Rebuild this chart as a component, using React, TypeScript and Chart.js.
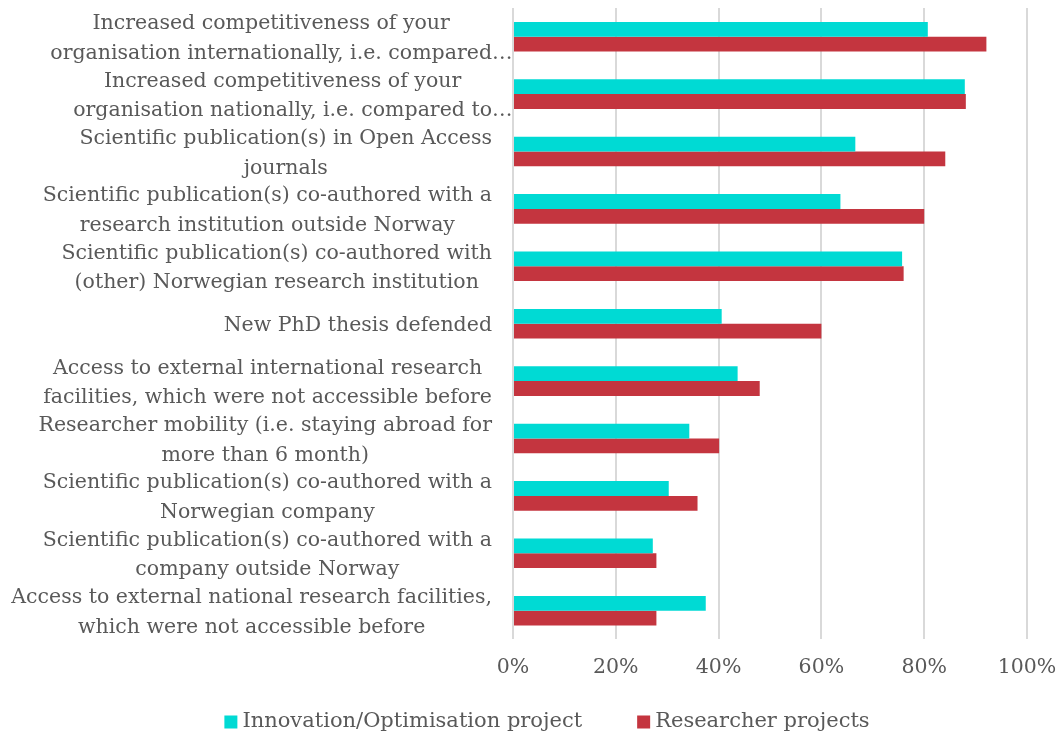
import { useEffect, useRef } from 'react';
import { Chart, registerables } from 'chart.js';

Chart.register(...registerables);

const categories: string[][] = [
  ['Increased competitiveness of your', 'organisation internationally, i.e. compared…'],
  ['Increased competitiveness of your', 'organisation nationally, i.e. compared to…'],
  ['Scientific publication(s) in Open Access', 'journals'],
  ['Scientific publication(s) co-authored with a', 'research institution outside Norway'],
  ['Scientific publication(s) co-authored with', '(other) Norwegian research institution'],
  ['New PhD thesis defended'],
  ['Access to external international research', 'facilities, which were not accessible before'],
  ['Researcher mobility (i.e. staying abroad for', 'more than 6 month)'],
  ['Scientific publication(s) co-authored with a', 'Norwegian company'],
  ['Scientific publication(s) co-authored with a', 'company outside Norway'],
  ['Access to external national research facilities,', 'which were not accessible before'],
];

const innovationValues = [80.7, 87.9, 66.6, 63.7, 75.7, 40.6, 43.7, 34.3, 30.3, 27.2, 37.5];
const researcherValues = [92.1, 88.1, 84.1, 80.0, 76.0, 60.0, 48.0, 40.1, 35.9, 27.9, 27.9];

const seriesNames = ['Innovation/Optimisation project', 'Researcher projects'];
const seriesColors = ['#00DAD4', '#C4353F'];

const xTickValues = [0, 20, 40, 60, 80, 100];

const FONT_FAMILY = '"DejaVu Serif", serif';
const FONT_SIZE = 20.5;
const LEGEND_FONT_SIZE = 21;
const TEXT_COLOR = '#595959';

export default function App() {
  const ref = useRef<HTMLCanvasElement | null>(null);

  useEffect(() => {
    document.body.style.margin = '0';
    const canvas = ref.current;
    if (!canvas) return;

    const excelPlugin = {
      id: 'excelLabels',
      afterDraw(chart: any) {
        const ctx = chart.ctx as CanvasRenderingContext2D;
        const yScale = chart.scales.y;
        ctx.save();
        ctx.font = `${FONT_SIZE}px ${FONT_FAMILY}`;
        ctx.fillStyle = TEXT_COLOR;
        ctx.textBaseline = 'middle';
        ctx.textAlign = 'left';
        const right = yScale.right - 21;
        const lineHeight = 29.5;
        categories.forEach((lines, i) => {
          const cy = yScale.getPixelForValue(i) + 2;
          const core = lines.map((l) => ctx.measureText(l.replace(/…$/, '')).width);
          const w = Math.max(...core);
          const cx = right - w / 2;
          lines.forEach((l, j) => {
            const ly = cy + (j - (lines.length - 1) / 2) * lineHeight;
            ctx.fillText(l, cx - core[j] / 2, ly);
          });
        });

        // legend
        ctx.font = `${LEGEND_FONT_SIZE}px ${FONT_FAMILY}`;
        const box = 13;
        const gap = 5;
        const itemGap = 55;
        const datasets = chart.data.datasets;
        const widths = datasets.map((d: any) => ctx.measureText(d.label).width);
        let total = 0;
        widths.forEach((w: number, k: number) => {
          total += box + gap + w + (k < widths.length - 1 ? itemGap : 0);
        });
        let x = chart.width / 2 + 18 - total / 2;
        const ly = 722;
        datasets.forEach((d: any, k: number) => {
          ctx.fillStyle = d.backgroundColor;
          ctx.fillRect(x, ly - box / 2, box, box);
          ctx.fillStyle = TEXT_COLOR;
          ctx.fillText(d.label, x + box + gap, ly);
          x += box + gap + widths[k] + itemGap;
        });
        ctx.restore();
      },
    };

    const chart = new Chart(canvas, {
      type: 'bar',
      data: {
        labels: categories.map((c) => c.join(' ')),
        datasets: [
          {
            label: seriesNames[0],
            data: innovationValues,
            backgroundColor: seriesColors[0],
            categoryPercentage: 0.515,
            barPercentage: 1,
          },
          {
            label: seriesNames[1],
            data: researcherValues,
            backgroundColor: seriesColors[1],
            categoryPercentage: 0.515,
            barPercentage: 1,
          },
        ],
      },
      options: {
        indexAxis: 'y',
        animation: false,
        responsive: false,
        maintainAspectRatio: false,
        layout: { padding: { top: 8, right: 31, left: 0, bottom: 41 } },
        plugins: {
          legend: { display: false },
          tooltip: { enabled: false },
        },
        scales: {
          x: {
            min: 0,
            max: 100,
            afterBuildTicks: (scale: any) => {
              scale.ticks = xTickValues.map((v) => ({ value: v }));
            },
            afterFit: (scale: any) => {
              scale.paddingLeft = 0;
              scale.paddingRight = 0;
            },
            ticks: {
              callback: (v: any) => `${v}%`,
              color: TEXT_COLOR,
              font: { family: FONT_FAMILY, size: FONT_SIZE },
              padding: 16,
              maxRotation: 0,
            },
            grid: { color: '#D9D9D9', lineWidth: 2, drawTicks: false },
            border: { display: false },
          },
          y: {
            ticks: { display: false },
            grid: { display: false },
            border: { display: false },
            afterFit: (scale: any) => {
              scale.width = 513;
            },
          },
        },
      },
      plugins: [excelPlugin],
    });

    return () => chart.destroy();
  }, []);

  return (
    <div style={{ width: 1058, height: 737 }}>
      <canvas ref={ref} width={1058} height={737} style={{ display: 'block' }} />
    </div>
  );
}
